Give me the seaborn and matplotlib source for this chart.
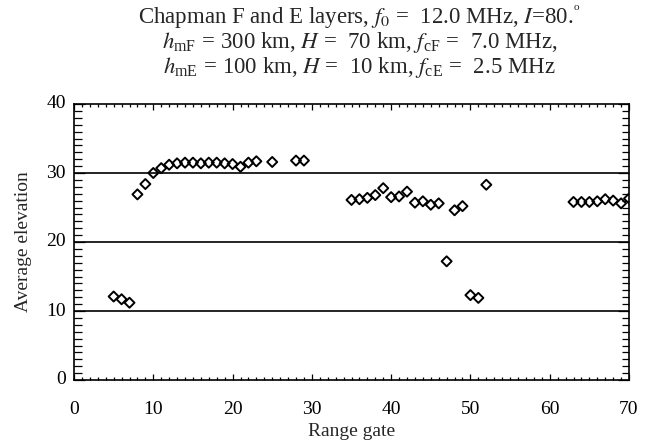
import matplotlib
matplotlib.use("Agg")
import matplotlib.pyplot as plt
import matplotlib.transforms as mtransforms
import seaborn as sns
import numpy as np
import pandas as pd
from matplotlib.ticker import MultipleLocator

# Data
gates = [5, 6, 7, 8, 9, 10, 11, 12, 13, 14, 15, 16, 17, 18, 19, 20, 21, 22, 23,
         25, 28, 29,
         35, 36, 37, 38, 39, 40, 41, 42, 43, 44, 45, 46, 47, 48, 49, 50, 51, 52,
         63, 64, 65, 66, 67, 68, 69, 70]
elevation = [12.1, 11.7, 11.2, 26.9, 28.4, 30.0, 30.7, 31.2, 31.4, 31.5, 31.5, 31.4,
             31.5, 31.5, 31.4, 31.3, 30.9, 31.5, 31.7,
             31.6, 31.8, 31.8,
             26.1, 26.2, 26.4, 26.8, 27.8, 26.5, 26.6, 27.3, 25.7, 25.9, 25.4, 25.6,
             17.2, 24.6, 25.2, 12.3, 11.9, 28.3,
             25.8, 25.8, 25.8, 25.9, 26.2, 26.0, 25.6, 26.3]

x_ticks = [0, 10, 20, 30, 40, 50, 60, 70]
y_ticks = [0, 10, 20, 30, 40]
hlines = [10, 20, 30]

title_lines = [
    r"Chapman F and E layers, $f_0$ =  12.0 MHz, $I$=80.$^{\mathregular{^o}}$",
    r"$h_\mathregular{mF}$ = 300 km, $H$ =  70 km, $f_\mathregular{cF}$ =  7.0 MHz,",
    r"$h_\mathregular{mE}$ = 100 km, $H$ =  10 km, $f_\mathregular{cE}$ =  2.5 MHz",
]

sns.set_style("white")
plt.rcParams['font.family'] = ['Liberation Serif', 'DejaVu Serif']
plt.rcParams['mathtext.fontset'] = 'stix'

df = pd.DataFrame({"gate": gates, "elev": elevation})

fig = plt.figure(figsize=(6.51, 4.46), dpi=100)
ax = fig.add_axes([74/651, 1-380/446, (629-74)/651, (380-104)/446])

for h in hlines:
    ax.axhline(h, color='black', lw=1.2, zorder=1)

sns.scatterplot(data=df, x="gate", y="elev", ax=ax, marker='D', s=26,
                facecolor='none', edgecolor='black', linewidth=1.4, zorder=3)

ax.set_xlim(0, 70)
ax.set_ylim(0, 40)
ax.set_xticks(x_ticks)
ax.set_yticks(y_ticks)
ax.xaxis.set_minor_locator(MultipleLocator(1))
ax.yaxis.set_minor_locator(MultipleLocator(1))
ax.tick_params(which='both', direction='in', top=True, right=True,
               bottom=True, left=True, colors='black', width=0.9)
ax.tick_params(axis='x', which='major', length=4, labelsize=14, pad=15)
ax.tick_params(axis='x', which='minor', length=2.2)
ax.tick_params(axis='y', which='major', length=8, labelsize=14, pad=6)
ax.tick_params(axis='y', which='minor', length=5.4)
for s in ax.spines.values():
    s.set_visible(True)
    s.set_color('black')
    s.set_linewidth(1.2)

offset = mtransforms.ScaledTranslation(0, 2/100, fig.dpi_scale_trans)
for lab in ax.get_yticklabels():
    lab.set_transform(lab.get_transform() + offset)

ax.set_xlabel("Range gate", fontsize=14, labelpad=4)
ax.set_ylabel("Average elevation", fontsize=14, labelpad=10)

cx = ((74 + 629) / 2 + 8) / 651
for i, t in enumerate(title_lines):
    fig.text(cx, 1 - (17 + 25.5 * i) / 446, t, ha='center', va='center', fontsize=16.5)

fig.savefig("out.png", dpi=100)
